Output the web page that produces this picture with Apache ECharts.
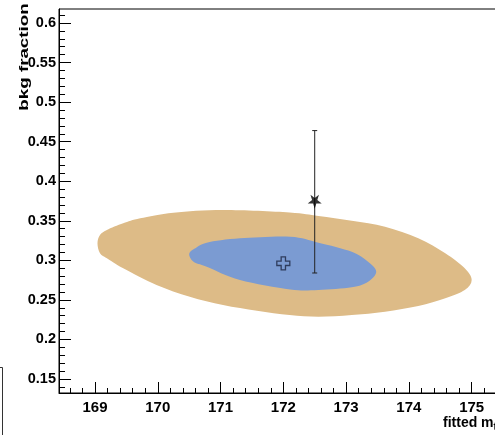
<!DOCTYPE html>
<html>
<head>
<meta charset="utf-8">
<script src="https://cdn.jsdelivr.net/npm/echarts@6.0.0/dist/echarts.min.js"></script>
<style>
  html, body { margin: 0; padding: 0; background: #fff; }
  #chart { width: 495px; height: 435px; }
</style>
</head>
<body>
<div id="chart"></div>
<script>
// 外圈 (2 sigma) 轮廓点
const outerX = [169.04, 169.08, 169.19, 169.45, 169.72, 170.25, 171.04, 172.1, 172.56, 173.09, 173.62, 174.15, 174.58, 174.89, 175.0,
  174.89, 174.58, 174.15, 173.62, 173.09, 172.56, 172.1, 171.58, 171.04, 170.51, 169.98, 169.45, 169.19, 169.08]
const outerY = [0.3215, 0.332, 0.3383, 0.3468, 0.3531, 0.3602, 0.3636, 0.3605, 0.356, 0.3501, 0.3425, 0.3278, 0.3089, 0.2899, 0.2751,
  0.2625, 0.252, 0.2423, 0.2351, 0.2309, 0.2287, 0.2309, 0.2363, 0.2435, 0.254, 0.2688, 0.2899, 0.3026, 0.3089]
// 内圈 (1 sigma) 轮廓点
const innerX = [170.5, 170.59, 170.78, 171.31, 172.11, 172.56, 173.09, 173.35, 173.48, 173.35, 173.09, 172.56, 172.11, 171.31, 170.78, 170.57]
const innerY = [0.308, 0.3148, 0.3223, 0.3278, 0.3299, 0.3223, 0.3109, 0.2983, 0.2856, 0.273, 0.2659, 0.2625, 0.2631, 0.2751, 0.292, 0.2983]
// 拟合中心
const fitX = [172.0]
const fitY = [0.2962]
// 输入点 + 误差
const trueX = [172.5]
const trueY = [0.374]
const trueLo = [0.284]
const trueHi = [0.464]
// 刻度
const xMajor = [169, 170, 171, 172, 173, 174, 175]
const yMajor = [0.15, 0.2, 0.25, 0.3, 0.35, 0.4, 0.45, 0.5, 0.55, 0.6]

const xMin = 168.427
const xMax = 175.531
const yMin = 0.1323
const yMax = 0.6177

let xMinor = []
for (let i = 0; i <= 34; i++) xMinor.push(+(168.6 + i * 0.2).toFixed(1))
let yMinor = []
for (let i = 0; i <= 47; i++) yMinor.push(+(0.14 + i * 0.01).toFixed(2))

const font = 'Liberation Sans'
const black = '#000'

// 闭合平滑曲线 (过每个点)
function closedCurve(pts) {
  const n = pts.length
  let d = 'M' + pts[0][0] + ',' + pts[0][1]
  for (let i = 0; i < n; i++) {
    const p0 = pts[(i - 1 + n) % n], p1 = pts[i], p2 = pts[(i + 1) % n], p3 = pts[(i + 2) % n]
    const c1 = [p1[0] + (p2[0] - p0[0]) / 6, p1[1] + (p2[1] - p0[1]) / 6]
    const c2 = [p2[0] - (p3[0] - p1[0]) / 6, p2[1] - (p3[1] - p1[1]) / 6]
    d += ' C' + c1.join(',') + ' ' + c2.join(',') + ' ' + p2.join(',')
  }
  return d + ' Z'
}

function contour(xs, ys, color) {
  return {
    type: 'custom',
    data: xs.map((x, i) => [x, ys[i]]),
    silent: true,
    renderItem: (params, api) => {
      if (params.dataIndex !== 0) return null
      const pts = xs.map((x, i) => api.coord([x, ys[i]]))
      return {
        type: 'path',
        shape: { pathData: closedCurve(pts) },
        style: { fill: color }
      }
    }
  }
}

function axisPair(dim, min, max, major, minor) {
  const isX = dim === 'x'
  const labelFmt = v => String(+(+v).toFixed(2))
  return [
    {
      type: 'value', min, max,
      position: isX ? 'bottom' : 'left',
      axisLine: { show: true, onZero: false, lineStyle: { color: black, width: 1 } },
      axisTick: { show: true, inside: true, length: isX ? 11 : 12, customValues: major, lineStyle: { color: black, width: 1 } },
      axisLabel: {
        show: true, customValues: major, formatter: labelFmt,
        margin: isX ? 7 : 3, color: black, fontFamily: font, fontWeight: 'bold', fontSize: isX ? 15 : 14.5
      },
      splitLine: { show: false }
    },
    {
      type: 'value', min, max,
      position: isX ? 'bottom' : 'left',
      axisLine: { show: false },
      axisTick: { show: true, inside: true, length: isX ? 5 : 6, customValues: minor, lineStyle: { color: black, width: 1 } },
      axisLabel: { show: false },
      splitLine: { show: false }
    }
  ]
}

const chart = echarts.init(document.getElementById('chart'), null, { renderer: 'canvas' })
chart.setOption({
  animation: false,
  backgroundColor: '#fff',
  grid: {
    left: 59, top: 9, right: -10, bottom: 42,
    show: true, borderColor: black, borderWidth: 1,
    outerBoundsMode: 'none'
  },
  xAxis: axisPair('x', xMin, xMax, xMajor, xMinor),
  yAxis: axisPair('y', yMin, yMax, yMajor, yMinor),
  series: [
    contour(outerX, outerY, '#ddbb87'),
    contour(innerX, innerY, '#7b9bd2'),
    {
      type: 'scatter',
      data: fitX.map((x, i) => [x, fitY[i]]),
      symbol: 'path://M4,0 H8 V4 H12 V8 H8 V12 H4 V8 H0 V4 H4 Z',
      symbolSize: 13,
      itemStyle: { color: 'rgba(0,0,0,0)', borderColor: '#1b2440', borderWidth: 1.3 },
      z: 5
    },
    {
      type: 'custom',
      data: trueX.map((x, i) => [x, trueLo[i], trueHi[i]]),
      z: 6,
      renderItem: (params, api) => {
        const lo = api.coord([api.value(0), api.value(1)])
        const hi = api.coord([api.value(0), api.value(2)])
        const st = { stroke: '#222', lineWidth: 1 }
        return {
          type: 'group',
          children: [
            { type: 'line', shape: { x1: lo[0], y1: lo[1], x2: hi[0], y2: hi[1] }, style: st },
            { type: 'line', shape: { x1: lo[0] - 2.5, y1: lo[1], x2: lo[0] + 2.5, y2: lo[1] }, style: st },
            { type: 'line', shape: { x1: hi[0] - 2.5, y1: hi[1], x2: hi[0] + 2.5, y2: hi[1] }, style: st }
          ]
        }
      }
    },
    {
      type: 'scatter',
      data: trueX.map((x, i) => [x, trueY[i]]),
      symbol: 'path://M50,100 L61,65 L98,65 L68,43 L79,9 L50,30 L21,9 L32,43 L2,65 L39,65 Z',
      symbolSize: 14,
      itemStyle: { color: '#000' },
      z: 7
    }
  ],
  graphic: [
    {
      type: 'text', x: 25, y: 57, rotation: Math.PI / 2, scaleX: 1.5,
      style: { text: 'bkg fraction', font: 'bold 12.5px "Liberation Sans"', fill: black, align: 'center', verticalAlign: 'middle' }
    },
    {
      type: 'text', x: 443, y: 423,
      style: {
        text: 'fitted m{s|t}',
        font: 'bold 14px "Liberation Sans"', fill: black, verticalAlign: 'middle',
        rich: { s: { fontFamily: font, fontWeight: 'bold', fontSize: 10, verticalAlign: 'bottom', padding: [8, 0, 0, 0] } }
      }
    },
    {
      type: 'polyline',
      shape: { points: [[0, 367.5], [2.5, 367.5], [2.5, 435]] },
      style: { stroke: '#333', lineWidth: 1, fill: null }
    }
  ]
})
</script>
</body>
</html>
